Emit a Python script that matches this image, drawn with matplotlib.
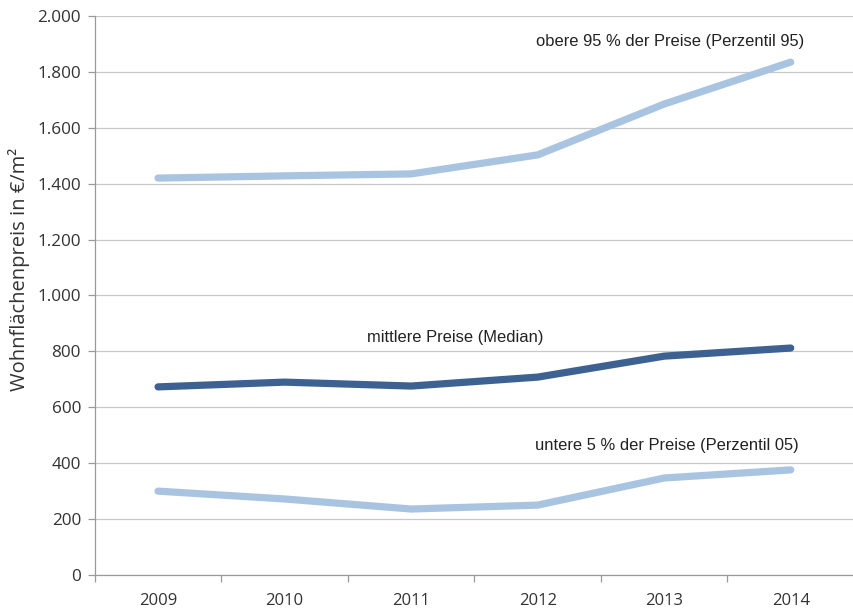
import matplotlib.pyplot as plt
import numpy as np

years = ["2009", "2010", "2011", "2012", "2013", "2014"]
perzentil_95 = [1420, 1428, 1435, 1503, 1685, 1835]
median = [673, 690, 676, 708, 783, 812]
perzentil_05 = [300, 272, 236, 250, 347, 376]

light_blue = "#a9c4e1"
dark_blue = "#3d6291"
grid_col = "#c8c8c8"
axis_col = "#9a9a9a"

fig = plt.figure(figsize=(8.54, 6.08), dpi=100)
ax = fig.add_axes([0.111, 0.0543, 0.889, 0.9194])

x = np.arange(len(years))
ax.plot(x, perzentil_95, color=light_blue, lw=5.2, solid_capstyle="round", solid_joinstyle="round", zorder=3)
ax.plot(x, median, color=dark_blue, lw=5.2, solid_capstyle="round", solid_joinstyle="round", zorder=3)
ax.plot(x, perzentil_05, color=light_blue, lw=5.2, solid_capstyle="round", solid_joinstyle="round", zorder=3)

ax.set_xlim(-0.5, 5.5)
ax.set_ylim(0, 2000)

yticks = np.arange(0, 2001, 200)
ax.set_yticks(yticks)
ax.set_yticklabels([f"{v:,}".replace(",", ".") for v in yticks], fontfamily="Open Sans", fontsize=12.3, color="#333333")
ax.yaxis.grid(True, color=grid_col, lw=0.9)
ax.set_axisbelow(True)

ax.set_xticks(x)
ax.set_xticklabels(years, fontfamily="Open Sans", fontsize=12, color="#333333")
ax.tick_params(axis="x", which="major", length=0, pad=13)
ax.set_xticks(np.arange(-0.5, 5.6, 1.0), minor=True)
ax.tick_params(axis="x", which="minor", length=5, color=axis_col, width=0.9)
ax.tick_params(axis="y", length=5, color=axis_col, width=0.9, pad=5)

for s in ["top", "right"]:
    ax.spines[s].set_visible(False)
for s in ["left", "bottom"]:
    ax.spines[s].set_color(axis_col)
    ax.spines[s].set_linewidth(0.9)

ax.set_ylabel("Wohnflächenpreis in €/m²", fontfamily="Open Sans", fontsize=14.5, color="#333333")
ax.yaxis.set_label_coords(-0.086, 0.547)

txt = dict(fontfamily="Liberation Sans", fontsize=11.9, color="#222222", ha="center", va="center")
ax.text(4.05, 1907, "obere 95 % der Preise (Perzentil 95)", **txt)
ax.text(2.35, 848, "mittlere Preise (Median)", **txt)
ax.text(4.02, 465, "untere 5 % der Preise (Perzentil 05)", **txt)

fig.savefig("out.png", dpi=100)
